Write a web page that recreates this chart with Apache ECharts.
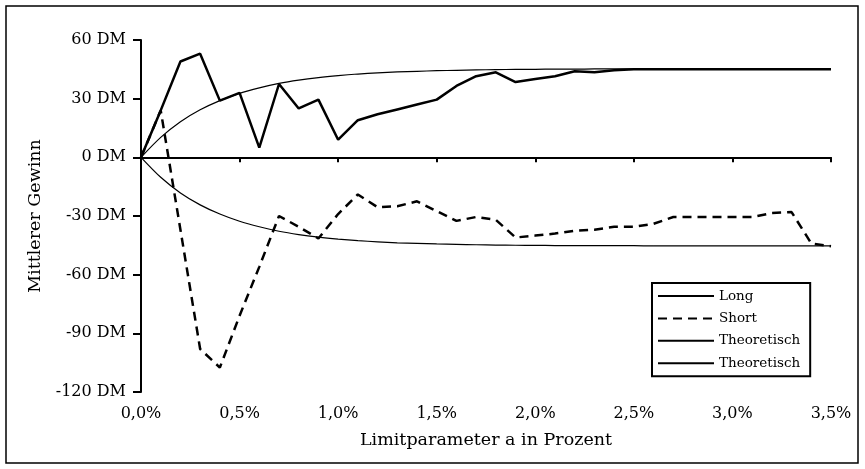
<!DOCTYPE html>
<html>
<head>
<meta charset="utf-8">
<script src="https://cdn.jsdelivr.net/npm/echarts@6/dist/echarts.min.js"></script>
<style>html,body{margin:0;padding:0;background:#fff}#c{width:865px;height:469px}</style>
</head>
<body>
<div id="c"></div>
<script>
var xValues = [0,0.1,0.2,0.3,0.4,0.5,0.6,0.7,0.8,0.9,1.0,1.1,1.2,1.3,1.4,1.5,1.6,1.7,1.8,1.9,2.0,2.1,2.2,2.3,2.4,2.5,2.6,2.7,2.8,2.9,3.0,3.1,3.2,3.3,3.4,3.5];
var longValues = [0,24,49,53,29,33,5,37.5,25,29.5,9,19,22,24.5,27,29.5,36.5,41.5,43.5,38.5,40,41.5,44,43.5,44.5,45,45,45,45,45,45,45,45,45,45,45];
var shortValues = [0,24,-37,-98,-107.5,-81,-56,-30,-35.5,-41.5,-29,-19,-25.5,-25,-22.5,-27.5,-32.5,-30.5,-32,-41,-40,-39,-37.5,-37,-35.5,-35.5,-34,-30.5,-30.5,-30.5,-30.5,-30.5,-28.5,-28,-44,-45.5];
var theoUpper = [0,10.2,18.2,24.3,29,32.7,35.5,37.8,39.5,40.8,41.8,42.6,43.2,43.7,44,44.3,44.5,44.7,44.85,44.95,45,45.1,45.1,45.2,45.2,45.2,45.3,45.3,45.3,45.3,45.3,45.3,45.3,45.3,45.3,45.3];
var theoLower = [0,-10.2,-18.2,-24.3,-29,-32.7,-35.5,-37.8,-39.5,-40.8,-41.8,-42.6,-43.2,-43.7,-44,-44.3,-44.5,-44.7,-44.85,-44.95,-45,-45.1,-45.1,-45.2,-45.2,-45.2,-45.3,-45.3,-45.3,-45.3,-45.3,-45.3,-45.3,-45.3,-45.3,-45.3];
var seriesNames = ['Long','Short','Theoretisch','Theoretisch'];
var xTitle = 'Limitparameter a in Prozent';
var yTitle = 'Mittlerer Gewinn';

function pairs(vals){ return xValues.map(function(x,i){ return [x, vals[i]]; }); }

var FONT = 'DejaVu Serif';
var chart = echarts.init(document.getElementById('c'), null, {renderer:'canvas'});
var ids = ['s0','s1','s2','s3'];
chart.setOption({
  animation: false,
  textStyle: {fontFamily: FONT, color: '#000'},
  graphic: [{type:'rect', shape:{x:6,y:6,width:852,height:457}, style:{fill:'none', stroke:'#000', lineWidth:1.5}}],
  grid: {left:141, right:34, top:40, bottom:77},
  legend: {
    orient:'vertical', left:652, top:283,
    data: ids,
    formatter: function(n){ return seriesNames[ids.indexOf(n)]; },
    itemWidth:56, itemHeight:14, itemGap:8.4,
    padding:[6,10,6,5],
    borderColor:'#000', borderWidth:2,
    itemStyle:{opacity:0},
    textStyle:{fontFamily:FONT, fontSize:13.5, color:'#000'}
  },
  xAxis: [
    {type:'value', min:0, max:3.5, interval:0.5, gridIndex:0,
     axisLine:{onZero:true, lineStyle:{color:'#000', width:2}},
     axisTick:{show:true, length:5, lineStyle:{color:'#000', width:2}},
     axisLabel:{show:false}, splitLine:{show:false}},
    {type:'value', min:0, max:3.5, interval:0.5, gridIndex:0, position:'bottom',
     axisLine:{show:false, onZero:false}, axisTick:{show:false}, splitLine:{show:false},
     axisLabel:{show:true, margin:14, fontFamily:FONT, fontSize:16, color:'#000',
       formatter:function(v){ return v.toFixed(1).replace('.', ',') + '%'; }},
     name: xTitle, nameLocation:'middle', nameGap:39,
     nameTextStyle:{fontFamily:FONT, fontSize:17.5, color:'#000'}}
  ],
  yAxis: {type:'value', min:-120, max:60, interval:30,
    axisLine:{show:true, onZero:false, lineStyle:{color:'#000', width:2}},
    axisTick:{show:true, length:8, lineStyle:{color:'#000', width:2}},
    splitLine:{show:false},
    axisLabel:{margin:15, fontFamily:FONT, fontSize:16, color:'#000', formatter:function(v){ return v + ' DM'; }},
    name: yTitle, nameLocation:'middle', nameGap:97,
    nameTextStyle:{fontFamily:FONT, fontSize:17.5, color:'#000'}},
  series: [
    {id:'s0', name:'s0', type:'line', xAxisIndex:0, data:pairs(longValues), symbol:'none',
     lineStyle:{color:'#000', width:2.5}, itemStyle:{color:'#000'}},
    {id:'s1', name:'s1', type:'line', xAxisIndex:0, data:pairs(shortValues), symbol:'none',
     lineStyle:{color:'#000', width:2.5, type:[9,6]}, itemStyle:{color:'#000'}},
    {id:'s2', name:'s2', type:'line', xAxisIndex:0, data:pairs(theoUpper), symbol:'none', smooth:0.3,
     lineStyle:{color:'#000', width:1.2}, itemStyle:{color:'#000'}},
    {id:'s3', name:'s3', type:'line', xAxisIndex:0, data:pairs(theoLower), symbol:'none', smooth:0.3,
     lineStyle:{color:'#000', width:1.2}, itemStyle:{color:'#000'}}
  ]
});
</script>
</body>
</html>
